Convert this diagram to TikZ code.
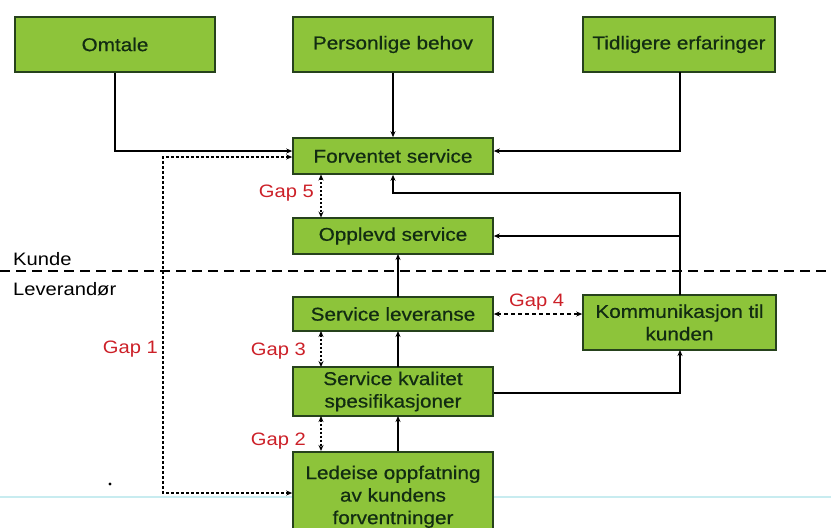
\documentclass[tikz,border=0pt]{standalone}
\usepackage{fontspec}
\setmainfont[FakeStretch=1.12]{Liberation Sans}
\newfontfamily\boxfont[FakeStretch=1.12, FakeBold=0.6]{Liberation Sans}
\usetikzlibrary{arrows.meta}
\definecolor{boxfill}{RGB}{141,196,58}
\definecolor{boxline}{RGB}{38,66,28}
\definecolor{boxtext}{RGB}{18,44,18}
\definecolor{gapred}{RGB}{204,32,40}
\definecolor{scanline}{RGB}{200,236,240}
\tikzset{
  box/.style={draw=boxline, line width=1.6pt, fill=boxfill, text=boxtext,
    minimum width=200pt, align=center, inner sep=2pt,
    font=\boxfont\fontsize{18.5}{22.5}\selectfont},
  flow/.style={line width=1.1pt, -{Stealth[length=6pt,width=5pt]}},
  gaparrow/.style={line width=2pt, dash pattern=on 2pt off 2pt,
    {Stealth[length=6pt,width=5pt]}-{Stealth[length=6pt,width=5pt]}},
  gapone/.style={line width=1.3pt, dash pattern=on 3pt off 2pt,
    {Stealth[length=6pt,width=5pt]}-{Stealth[length=6pt,width=5pt]}},
  gapfour/.style={line width=1.4pt, dash pattern=on 4pt off 3pt,
    {Stealth[length=6pt,width=5pt]}-{Stealth[length=6pt,width=5pt]}},
  gaplabel/.style={text=gapred, font=\fontsize{18}{20}\selectfont, inner sep=0pt},
  sidelabel/.style={font=\fontsize{18}{20}\selectfont, inner sep=0pt, anchor=base west},
}
\begin{document}
\begin{tikzpicture}[x=1pt, y=-1pt]
\useasboundingbox (0,0) rectangle (831,528);
\clip (0,0) rectangle (831,528);

% faint line across the lower part of the page
\draw[scanline, line width=1.5pt] (0,497) -- (831,497);

% influences on expected service
\node[box, minimum height=55pt] (omtale) at (115,44.5) {Omtale};
\node[box, minimum height=55pt] (behov) at (393,44.5) {Personlige behov};
\node[box, minimum height=55pt, minimum width=192pt] (erfar) at (679,44.5) {Tidligere erfaringer};

% customer side
\node[box, minimum height=36pt] (forv) at (393,156) {Forventet service};
\node[box, minimum height=36pt] (oppl) at (393,236) {Opplevd service};

% supplier side
\node[box, minimum height=34pt] (lever) at (393,314) {Service leveranse};
\node[box, minimum height=55pt, minimum width=193pt] (komm) at (679.5,322.5) {Kommunikasjon til\\kunden};
\node[box, minimum height=49pt] (spec) at (393,391.5) {Service kvalitet\\spesifikasjoner};
\node[box, minimum height=90pt, anchor=north] (led) at (393,451) {Ledeise oppfatning\\av kundens\\forventninger};

% boundary between customer and supplier
\draw[line width=2.2pt, dash pattern=on 10pt off 6pt] (0,271) -- (831,271);
\node[sidelabel] (kunde) at (13,265) {Kunde};
\node[sidelabel] (leverandor) at (13,295) {Leverandør};

% solid connectors
\coordinate (omtcorner) at (omtale.south |- 0,151);
\draw[flow] (omtale.south) -- (omtcorner) -- (forv.west |- 0,151);
\draw[flow] (behov.south) -- (forv.north);
\coordinate (erfcorner) at (680,151);
\draw[flow] (680,72) -- (erfcorner) -- (forv.east |- 0,151);
\coordinate (kommtop) at (680,295);
\coordinate (kommcorner) at (680,193);
\coordinate (forvcorner) at (393,193);
\draw[flow] (kommtop) -- (kommcorner) -- (forvcorner) -- (forv.south);
\draw[flow] (680,236) -- (oppl.east);
\draw[flow] (398,297) -- (398,254);
\draw[flow] (398,367) -- (398,331);
\draw[flow] (398,451) -- (398,416);
\coordinate (speccorner) at (680,393);
\draw[flow] (spec.east |- 0,393) -- (speccorner) -- (680,350);

% gaps
\draw[gaparrow] (321,174.5) -- (321,217.5);
\draw[gaparrow] (321,331) -- (321,367);
\draw[gaparrow] (321,416) -- (321,451);
\draw[gapfour] (lever.east) -- (komm.west |- lever.east);
\coordinate (gapa) at (163,157);
\coordinate (gapb) at (163,493);
\draw[gapone] (forv.west |- 0,157) -- (gapa) -- (gapb) -- (led.west |- 0,493);

\node[gaplabel, anchor=base east] (gap5) at (314,197) {Gap 5};
\node[gaplabel, anchor=base east] (gap1) at (158,353.5) {Gap 1};
\node[gaplabel, anchor=base east] (gap3) at (306,355) {Gap 3};
\node[gaplabel, anchor=base east] (gap2) at (306,445) {Gap 2};
\node[gaplabel, anchor=base west] (gap4) at (509,306) {Gap 4};

% small mark on the page
\fill (110,484) circle (1.6pt);
\end{tikzpicture}
\end{document}
